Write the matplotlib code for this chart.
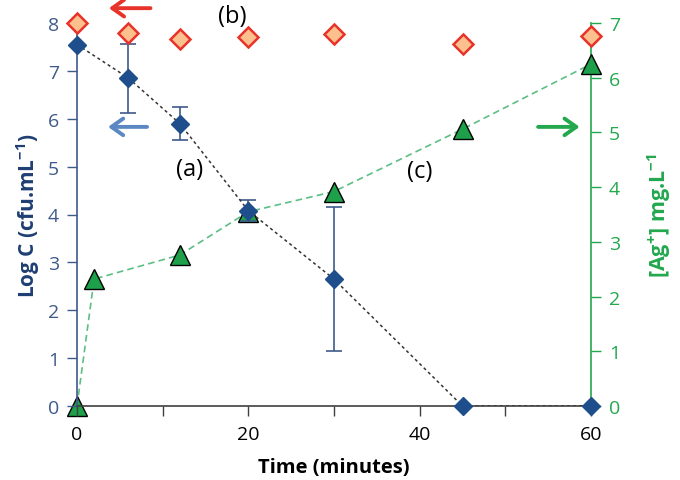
import matplotlib
matplotlib.use("Agg")
import matplotlib.pyplot as plt
import numpy as np

plt.rcParams['font.family'] = ['Open Sans', 'DejaVu Sans']
plt.rcParams['mathtext.fontset'] = 'custom'
plt.rcParams['mathtext.rm'] = 'Open Sans'
plt.rcParams['mathtext.bf'] = 'Open Sans:bold'

# (a) Log C of bacteria
t_a = [0, 6, 12, 20, 30, 45, 60]
logc_a = [7.55, 6.85, 5.90, 4.08, 2.65, 0.0, 0.0]
err_a = [0.0, 0.72, 0.35, 0.22, 1.50, 0.0, 0.0]

# (b) control Log C
t_b = [0, 6, 12, 20, 30, 45, 60]
logc_b = [8.0, 7.80, 7.67, 7.70, 7.76, 7.56, 7.72]

# (c) [Ag+] released
t_c = [0, 2, 12, 20, 30, 45, 60]
ag_c = [0.0, 2.32, 2.76, 3.55, 3.92, 5.06, 6.25]

blue_axis = '#3E5A8A'
blue_lab = '#1F3F73'
green = '#23A84E'

fig = plt.figure(figsize=(6.8, 4.81), dpi=100)
ax = fig.add_axes([77/680, 74/481, 514/680, 383/481])
ax2 = ax.twinx()

ax.set_xlim(0, 60)
ax.set_ylim(0, 8)
ax2.set_ylim(0, 7)

# series a
ax.errorbar(t_a, logc_a, yerr=err_a, fmt='none', ecolor=blue_axis, elinewidth=1.2,
            capsize=6, capthick=1.2, zorder=3)
ax.plot(t_a, logc_a, linestyle=(0, (2, 2)), color='#333333', lw=1.1, zorder=4)
ax.plot(t_a, logc_a, linestyle='none', marker='D', ms=9, mfc='#1F4E8C',
        mec='#1F4E8C', zorder=6, clip_on=False)

# series b
ax.plot(t_b, logc_b, linestyle='none', marker='D', ms=10, mfc='#FCBF8E',
        mec='#E8332B', mew=1.8, zorder=7, clip_on=False)

# series c
ax2.plot(t_c, ag_c, linestyle=(0, (4, 2.5)), color='#5DBE84', lw=1.2, zorder=4)
ax2.plot(t_c, ag_c, linestyle='none', marker='^', ms=14, mfc='#1EA04A',
         mec='black', mew=1.0, zorder=5, clip_on=False)
ax.set_zorder(ax2.get_zorder() + 1)
ax.patch.set_visible(False)

# spines
for a in (ax, ax2):
    a.spines['top'].set_visible(False)
ax.spines['right'].set_visible(False)
ax2.spines['left'].set_visible(False)
ax2.spines['bottom'].set_visible(False)
ax.spines['left'].set_color(blue_axis)
ax.spines['left'].set_linewidth(1.2)
ax.spines['bottom'].set_color('#404040')
ax.spines['bottom'].set_linewidth(1.2)
ax2.spines['right'].set_color(green)
ax2.spines['right'].set_linewidth(1.2)

ax.set_xticks([0, 20, 40, 60])
ax.set_xticks([10, 30, 50], minor=True)
ax.tick_params(axis='x', which='both', length=7, width=1.0, color='#404040',
               labelsize=14, labelcolor='black', pad=7)
ax.set_yticks(range(0, 9))
ax.tick_params(axis='y', length=7, width=1.0, color=blue_axis, labelsize=14,
               labelcolor=blue_axis, pad=6)
ax2.set_yticks(range(0, 8))
ax2.tick_params(axis='y', length=7, width=1.0, color=green, labelsize=14,
                labelcolor=green, pad=6)

ax.set_xlabel('Time (minutes)', fontsize=14.5, fontweight='bold', labelpad=10)
ax.set_ylabel(r'Log C (cfu.mL$^{\mathbf{-1}}$)', fontsize=15, fontweight='bold',
              color=blue_lab, labelpad=4)
ax2.set_ylabel(r'[Ag$^{\mathbf{+}}$] mg.L$^{\mathbf{-1}}$', fontsize=15.5,
               fontweight='bold', color=green, rotation=90, labelpad=18)

# annotations
ax.text(18.1, 8.15, '(b)', fontsize=17, ha='center', va='center')
ax.text(13.1, 4.95, '(a)', fontsize=17, ha='center', va='center')
ax.text(40.0, 4.91, '(c)', fontsize=17, ha='center', va='center')

arrow_kw = dict(arrowstyle='->, head_length=0.85, head_width=0.6', lw=2.8)
ax.annotate('', xy=(3.4, 8.31), xytext=(8.9, 8.31),
            arrowprops=dict(color='#E8332B', **arrow_kw), annotation_clip=False)
ax.annotate('', xy=(3.3, 5.83), xytext=(8.5, 5.83),
            arrowprops=dict(color='#5B87C5', **arrow_kw), annotation_clip=False)
ax.annotate('', xy=(59.0, 5.83), xytext=(53.5, 5.83),
            arrowprops=dict(color=green, **arrow_kw), annotation_clip=False)

fig.savefig('out.png', dpi=100)
